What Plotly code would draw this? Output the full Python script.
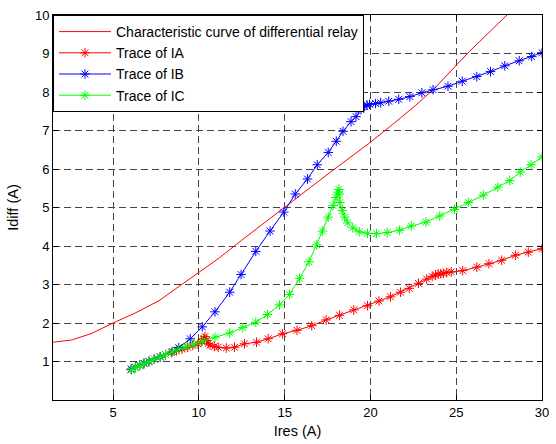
import plotly.graph_objects as go

# Characteristic curve of differential relay
char_x = [1.5, 2.6, 3.76, 5.0, 6.34, 7.68, 9.0, 10.0, 11.13, 12.5, 14.95, 16.5, 18.0, 19.9, 21.3, 22.6, 23.75, 25.76, 27.96, 30.0]
char_y = [1.5, 1.56, 1.73, 2.0, 2.27, 2.58, 3.0, 3.31, 3.67, 4.15, 5.0, 5.52, 6.03, 6.66, 7.16, 7.64, 8.1, 9.05, 10.0, 10.92]

# Trace of IA
ia_x = [6.06, 6.3, 6.55, 6.8, 7.1, 7.4, 7.75, 8.06, 8.4, 8.7, 9.02, 9.35, 9.65, 9.95, 10.15, 10.3, 10.36, 10.45, 10.55, 10.65,
        10.9, 11.13, 11.6, 12.08, 12.66, 13.36, 14.04, 14.88, 15.72, 16.58, 17.42, 18.2, 19.03, 19.83, 20.5, 21.17, 21.75,
        22.26, 22.8, 23.28, 23.6, 23.8, 23.95, 24.1, 24.25, 24.45, 24.71, 25.38, 26.2, 26.91, 27.65, 28.45, 29.2, 30.0]
ia_y = [0.80, 0.85, 0.90, 0.95, 1.00, 1.06, 1.12, 1.18, 1.23, 1.28, 1.32, 1.37, 1.42, 1.46, 1.52, 1.60, 1.65, 1.55, 1.47, 1.43,
        1.39, 1.37, 1.35, 1.37, 1.46, 1.50, 1.59, 1.72, 1.81, 1.93, 2.08, 2.20, 2.34, 2.45, 2.57, 2.68, 2.80,
        2.90, 3.03, 3.14, 3.21, 3.25, 3.27, 3.28, 3.29, 3.31, 3.33, 3.36, 3.45, 3.54, 3.63, 3.76, 3.84, 3.93]

# Trace of IB
ib_x = [6.06, 6.3, 6.55, 6.8, 7.1, 7.4, 7.75, 8.06, 8.45, 8.83, 9.5, 10.2, 10.94, 11.8, 12.46, 13.32, 14.15, 14.95, 15.62,
        16.33, 16.9, 17.54, 18.01, 18.4, 18.87, 19.16, 19.45, 19.64, 19.8, 19.95, 20.3, 20.6, 21.07, 21.65, 22.3, 23.0,
        23.65, 24.52, 25.35, 26.2, 27.0, 27.83, 28.67, 29.4, 30.0]
ib_y = [0.80, 0.85, 0.90, 0.95, 1.00, 1.06, 1.12, 1.18, 1.26, 1.36, 1.59, 1.90, 2.29, 2.80, 3.26, 3.86, 4.39, 4.88, 5.35,
        5.74, 6.11, 6.43, 6.72, 6.98, 7.23, 7.36, 7.54, 7.62, 7.66, 7.68, 7.70, 7.72, 7.76, 7.81, 7.88, 7.98,
        8.06, 8.15, 8.28, 8.40, 8.53, 8.68, 8.81, 8.92, 9.02]

# Trace of IC
ic_x = [6.06, 6.3, 6.55, 6.8, 7.1, 7.4, 7.75, 8.06, 8.45, 8.83, 9.25, 9.7, 10.2, 10.94, 11.8, 12.56, 13.32, 14.0, 14.7,
        15.28, 15.87, 16.42, 16.87, 17.2, 17.54, 17.82, 18.0, 18.1, 18.17, 18.2, 18.22, 18.36, 18.5, 18.68, 18.97, 19.35,
        19.83, 20.35, 20.98, 21.7, 22.38, 23.24, 24.04, 24.9, 25.71, 26.58, 27.43, 28.12, 28.73, 29.36, 30.0]
ic_y = [0.78, 0.84, 0.89, 0.94, 1.00, 1.06, 1.12, 1.18, 1.25, 1.32, 1.39, 1.45, 1.53, 1.63, 1.74, 1.88, 2.02, 2.22, 2.47,
        2.74, 3.16, 3.59, 4.03, 4.39, 4.75, 5.05, 5.26, 5.40, 5.47, 5.35, 5.13, 4.92, 4.75, 4.60, 4.47, 4.37,
        4.33, 4.32, 4.35, 4.41, 4.52, 4.62, 4.78, 4.95, 5.13, 5.32, 5.53, 5.70, 5.92, 6.11, 6.31]

x_ticks = [5, 10, 15, 20, 25, 30]
y_ticks = [1, 2, 3, 4, 5, 6, 7, 8, 9, 10]

FONT = "Liberation Sans, Arial, sans-serif"

fig = go.Figure()
fig.add_trace(go.Scatter(x=char_x, y=char_y, mode="lines", name="Characteristic curve of differential relay",
                         line=dict(color="#ff0000", width=1)))

def trace(x, y, name, color):
    return go.Scatter(x=x, y=y, mode="lines+markers", name=name,
                      line=dict(color=color, width=1),
                      marker=dict(symbol="asterisk-open", size=8, color=color,
                                  line=dict(color=color, width=1)))

fig.add_trace(trace(ia_x, ia_y, "Trace of IA", "#ff0000"))
fig.add_trace(trace(ib_x, ib_y, "Trace of IB", "#0000ff"))
fig.add_trace(trace(ic_x, ic_y, "Trace of IC", "#00ff00"))

axis_common = dict(showline=True, linecolor="black", linewidth=1, mirror="ticks",
                   ticks="inside", ticklen=5, tickcolor="black", tickwidth=1,
                   showgrid=True, gridcolor="#444444", gridwidth=1, griddash="7px,4px",
                   zeroline=False, tickfont=dict(family=FONT, size=13, color="black"))

fig.update_xaxes(range=[1.5, 30], tickvals=x_ticks,
                 title=dict(text="Ires (A)", font=dict(family=FONT, size=14.5, color="black"), standoff=7),
                 **axis_common)
fig.update_yaxes(range=[0, 10], tickvals=y_ticks,
                 title=dict(text="Idiff (A)", font=dict(family=FONT, size=14.5, color="black"), standoff=12),
                 **axis_common)

fig.update_layout(
    width=556, height=444,
    margin=dict(l=53, r=7, t=15, b=37),
    paper_bgcolor="white", plot_bgcolor="white",
    font=dict(family=FONT, size=13, color="black"),
    showlegend=True,
    legend=dict(x=0, y=1, xanchor="left", yanchor="top", bgcolor="white",
                bordercolor="black", borderwidth=1, font=dict(family=FONT, size=14, color="black"),
                tracegroupgap=0, itemwidth=52),
)

fig.write_html("out.html")
